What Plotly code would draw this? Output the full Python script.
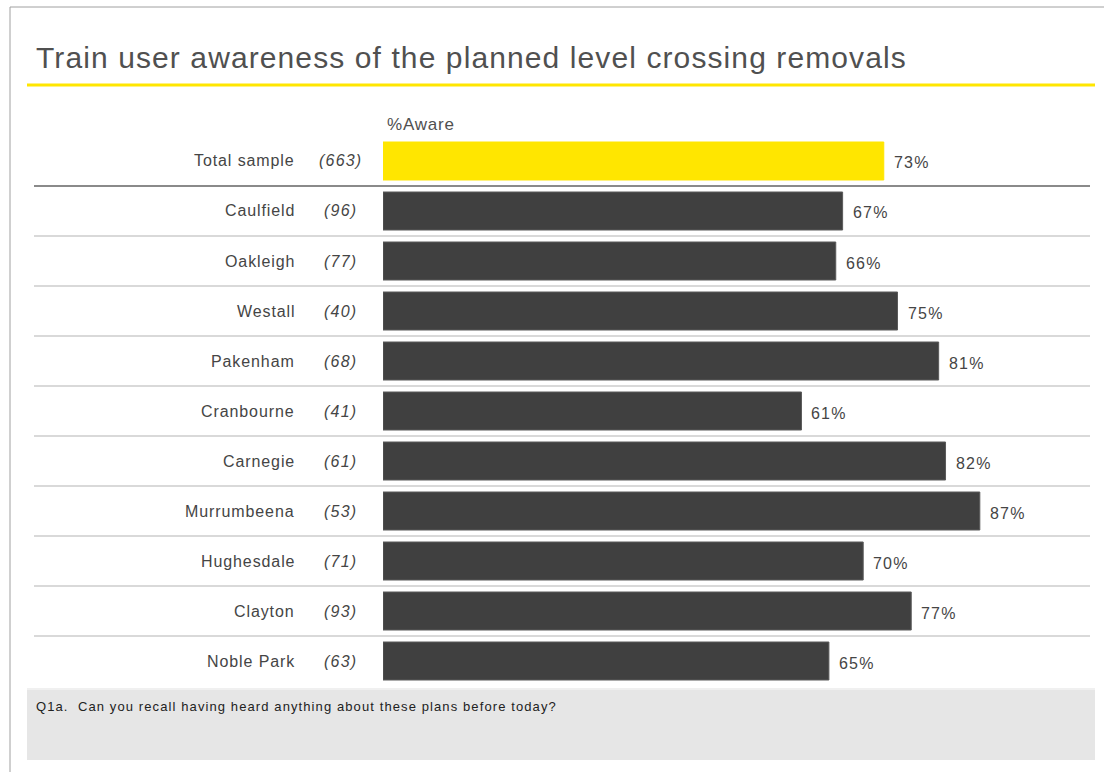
import plotly.graph_objects as go

# Survey results: share of train users aware of the planned level crossing removals
categories = ["Total sample", "Caulfield", "Oakleigh", "Westall", "Pakenham", "Cranbourne",
              "Carnegie", "Murrumbeena", "Hughesdale", "Clayton", "Noble Park"]
sample_sizes = [663, 96, 77, 40, 68, 41, 61, 53, 71, 93, 63]
aware_pct = [73, 67, 66, 75, 81, 61, 82, 87, 70, 77, 65]

W, H = 1104, 772
FONT = "Liberation Sans, Arial, sans-serif"
TEXT = "#454545"


def spaced(s, px):
    """Wrap text in a span with extra letter spacing."""
    return f'<span style="letter-spacing:{px}px">{s}</span>'


bar_colors = ["#FFE600"] + ["#404040"] * (len(categories) - 1)
line_colors = ["#FFE600"] + ["#5a5a5a"] * (len(categories) - 1)

fig = go.Figure(go.Bar(
    x=aware_pct,
    y=categories,
    orientation="h",
    width=0.76,
    marker=dict(color=bar_colors, line=dict(color=line_colors, width=1)),
    hoverinfo="skip",
))

x_dom = (383 / W, 1069 / W)
y_dom = (1 - 686 / H, 1 - 136 / H)

fig.update_layout(
    width=W, height=H,
    margin=dict(l=0, r=0, t=0, b=0),
    paper_bgcolor="white", plot_bgcolor="white",
    showlegend=False,
    font=dict(family=FONT, color=TEXT),
    xaxis=dict(domain=x_dom, range=[0, 100], visible=False, fixedrange=True),
    yaxis=dict(domain=y_dom, range=[len(categories) - 0.5, -0.5], visible=False,
               type="category", categoryorder="array", categoryarray=categories,
               fixedrange=True),
)

shapes = []
annotations = []

# outer frame
shapes.append(dict(type="rect", xref="paper", yref="paper",
                   x0=10 / W, x1=1.02, y0=-0.02, y1=1 - 7 / H,
                   line=dict(color="#a0a0a0", width=1), layer="below"))
# yellow rule under the title
shapes.append(dict(type="line", xref="paper", yref="paper",
                   x0=27 / W, x1=1095 / W, y0=1 - 85 / H, y1=1 - 85 / H,
                   line=dict(color="#FFE600", width=3)))
# question footer box
shapes.append(dict(type="rect", xref="paper", yref="paper",
                   x0=27 / W, x1=1095 / W, y0=1 - 760 / H, y1=1 - 688 / H,
                   fillcolor="#e6e6e6", line=dict(width=0), layer="below"))
shapes.append(dict(type="line", xref="paper", yref="paper",
                   x0=27 / W, x1=1095 / W, y0=1 - 689 / H, y1=1 - 689 / H,
                   line=dict(color="#f0f0f0", width=2), layer="below"))

# row separators
for i in range(len(categories) - 1):
    shapes.append(dict(type="line", xref="paper", yref="y",
                       x0=34 / W, x1=1090 / W, y0=i + 0.5, y1=i + 0.5,
                       line=dict(color="#8a8a8a" if i == 0 else "#cccccc",
                                 width=2 if i == 0 else 1.5),
                       layer="below"))

# title
annotations.append(dict(text=spaced("Train user awareness of the planned level crossing removals", 1.1),
                        xref="paper", yref="paper", x=34 / W, y=1 - 57 / H,
                        xanchor="left", yanchor="middle", showarrow=False,
                        font=dict(size=30, color="#505050", family=FONT)))
annotations.append(dict(text=spaced("%Aware", 0.8), xref="paper", yref="paper",
                        x=385 / W, y=1 - 124 / H, xanchor="left", yanchor="middle",
                        showarrow=False, font=dict(size=17, color="#505050")))
annotations.append(dict(text=spaced("Q1a.  Can you recall having heard anything about these plans before today?", 1.1),
                        xref="paper", yref="paper", x=34 / W, y=1 - 706 / H,
                        xanchor="left", yanchor="middle", showarrow=False,
                        font=dict(size=13, color="#222222")))

for cat, n, v in zip(categories, sample_sizes, aware_pct):
    annotations.append(dict(text=spaced(cat, 0.9), xref="paper", yref="y", x=297 / W, y=cat,
                            xanchor="right", yanchor="middle", showarrow=False,
                            font=dict(size=16, color=TEXT)))
    annotations.append(dict(text=spaced(f"<i>({n})</i>", 1.2), xref="paper", yref="y",
                            x=340 / W, y=cat,
                            xanchor="center", yanchor="middle", showarrow=False,
                            font=dict(size=16, color=TEXT)))
    annotations.append(dict(text=spaced(f"{v}%", 1.2), xref="x", yref="y", x=v, y=cat,
                            xanchor="left", yanchor="middle", xshift=8, yshift=-2,
                            showarrow=False, font=dict(size=16, color=TEXT)))

fig.update_layout(shapes=shapes, annotations=annotations)

fig.write_html("out.html")
